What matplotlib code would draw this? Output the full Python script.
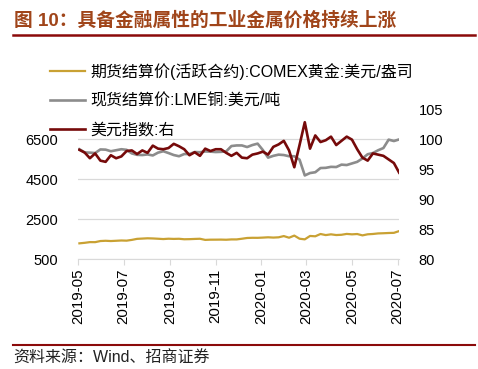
import pandas as pd
import matplotlib.pyplot as plt

plt.rcParams['font.family'] = ['Liberation Sans', 'Noto Sans CJK SC', 'DejaVu Sans']

# weekly (Friday) readings, 2019-05-24 .. 2020-07-24
dates = pd.date_range('2019-05-24', '2020-07-24', freq='W-FRI')

gold = [1285, 1311,                      # 2019-05
        1346, 1344, 1400, 1413,          # 06
        1400, 1413, 1427, 1419,          # 07
        1457, 1509, 1523, 1537, 1529,    # 08
        1515, 1499, 1516, 1506,          # 09
        1513, 1489, 1494, 1505,          # 10
        1514, 1457, 1468, 1469, 1472,    # 11
        1465, 1481, 1481, 1515,          # 12
        1553, 1562, 1560, 1572, 1587,    # 2020-01
        1573, 1586, 1648, 1566,          # 02
        1672, 1516, 1484, 1654,          # 03
        1637, 1752, 1698, 1735,          # 04
        1700, 1713, 1756, 1735, 1751,    # 05
        1683, 1737, 1753, 1781,          # 06
        1790, 1802, 1810, 1897]          # 07

copper = [5990, 5830,
          5820, 5800, 5980, 5970,
          5890, 5940, 5990, 5960,
          5780, 5710, 5700, 5730, 5680,
          5820, 5890, 5800, 5700,
          5640, 5750, 5750, 5850,
          5840, 5880, 5870, 5850, 5860,
          5880, 6150, 6180, 6180,
          6100, 6200, 6270, 5950, 5570,
          5660, 5720, 5700, 5640,
          5640, 5470, 4680, 4800,
          4840, 5050, 5060, 5110,
          5100, 5220, 5200, 5280, 5360,
          5530, 5740, 5800, 5940,
          6050, 6470, 6400, 6480]

dxy = [98.2, 97.75,
       96.8, 97.6, 96.4, 96.2,
       97.3, 96.8, 97.1, 98.0,
       98.1, 97.5, 98.1, 97.7, 98.9,
       98.4, 98.3, 98.5, 99.2,
       98.8, 98.3, 97.3, 97.8,
       97.2, 98.4, 98.0, 98.3, 98.3,
       97.7, 97.2, 97.7, 96.9,
       96.8, 97.4, 97.6, 97.9, 97.4,
       98.7, 99.1, 99.7, 98.1,
       95.3, 99.0, 102.8, 98.4,
       100.6, 99.5, 99.8, 100.4,
       99.0, 99.7, 100.4, 99.9, 98.3,
       96.9, 96.4, 97.6, 97.4,
       97.2, 96.6, 96.0, 94.4]

tick_dates = pd.to_datetime(['2019-05-22', '2019-07-22', '2019-09-22', '2019-11-22',
                             '2020-01-22', '2020-03-22', '2020-05-22', '2020-07-22'])
left_ticks = [500, 2500, 4500, 6500]
right_ticks = [80, 85, 90, 95, 100, 105]

fig = plt.figure(figsize=(4.78, 3.69), dpi=100)
ax = fig.add_axes([0.163, 0.298, 0.672, 0.4065])
ax2 = ax.twinx()

l1, = ax.plot(dates, gold, color='#C9A133', lw=1.6, label='期货结算价(活跃合约):COMEX黄金:美元/盎司')
l2, = ax.plot(dates, copper, color='#8C8C8C', lw=1.9, label='现货结算价:LME铜:美元/吨')
l3, = ax2.plot(dates, dxy, color='#760A0A', lw=1.9, label='美元指数:右')

ax.set_xlim(pd.Timestamp('2019-05-22'), pd.Timestamp('2020-07-24'))
ax.set_ylim(500, 8000)
ax2.set_ylim(80, 105)
ax.set_yticks(left_ticks)
ax2.set_yticks(right_ticks)
ax.set_xticks(tick_dates)
ax.set_xticklabels([d.strftime('%Y-%m') for d in tick_dates], rotation=90)

ax.grid(axis='y', color='#D9D9D9', lw=0.9)
ax.set_axisbelow(True)
for a in (ax, ax2):
    for s in ('top', 'left', 'right', 'bottom'):
        a.spines[s].set_visible(False)
ax.spines['bottom'].set_visible(True)
ax.spines['bottom'].set_color('#D9D9D9')
ax.tick_params(axis='y', length=0, labelsize=10.5, pad=14)
ax2.tick_params(axis='y', length=0, labelsize=10.5, pad=14)
ax.tick_params(axis='x', length=4, color='#D9D9D9', labelsize=10.8, pad=3)

fig.legend(handles=[l1, l2, l3], loc='upper left', bbox_to_anchor=(0.1046, 0.83),
           frameon=False, fontsize=11.5, handlelength=2.2, handletextpad=0.3,
           labelspacing=0.88, borderpad=0, borderaxespad=0)

fig.text(0.03, 0.945, '图 10：具备金融属性的工业金属价格持续上涨', fontsize=13.5,
         fontweight='bold', color='#A0451A', va='center')
fig.add_artist(plt.Line2D([0.027, 0.993], [0.905, 0.905], color='#8B0A0A', lw=1.8))
fig.add_artist(plt.Line2D([0.027, 0.993], [0.064, 0.064], color='#8B0A0A', lw=1.5))
fig.text(0.028, 0.028, '资料来源：Wind、招商证券', fontsize=11.5, color='#222222', va='center')

fig.savefig('out.png', dpi=100)
